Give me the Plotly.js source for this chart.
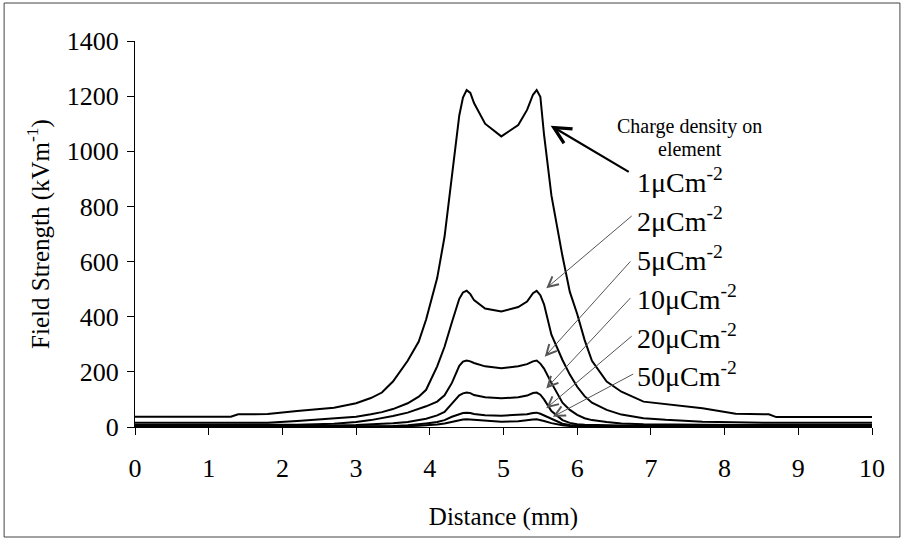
<!DOCTYPE html>
<html>
<head>
<meta charset="utf-8">
<script src="https://cdn.plot.ly/plotly-3.0.1.min.js"></script>
<style>html,body{margin:0;padding:0;background:#fff;}#chart{width:907px;height:540px;}</style>
</head>
<body>
<div id="chart"></div>
<script>
// Distance (mm)
const distance = [0, 1.3, 1.4, 1.8, 2.2, 2.7, 3.0, 3.2, 3.35, 3.5, 3.7, 3.85, 3.95, 4.1, 4.2, 4.3, 4.4, 4.45, 4.5, 4.55, 4.6, 4.75, 4.97, 5.2, 5.32, 5.4, 5.45, 5.5, 5.55, 5.65, 5.8, 5.9, 6.0, 6.1, 6.2, 6.4, 6.6, 6.9, 7.2, 7.7, 8.15, 8.6, 8.7, 10];

// Field strength (kV/m) for each charge density on element
const field1 = [37, 37, 46, 47, 58, 70, 86, 105, 125, 165, 240, 310, 390, 540, 690, 910, 1130, 1195, 1222, 1212, 1175, 1100, 1054, 1095, 1150, 1205, 1222, 1198, 1060, 840, 620, 490, 410, 316, 240, 165, 128, 92, 82, 68, 48, 46, 36, 36];
const field2 = [15, 15, 15, 15, 22, 30, 37, 46, 54, 65, 86, 110, 135, 220, 291, 380, 465, 488, 494, 482, 460, 430, 419, 435, 455, 485, 494, 478, 445, 335, 243, 190, 146, 112, 88, 62, 45, 32, 26, 19, 17, 15, 15, 15];
const field5 = [7, 7, 7, 7, 8, 12, 18, 25, 32, 40, 52, 65, 75, 92, 115, 160, 222, 237, 241, 238, 232, 220, 213, 220, 228, 238, 241, 230, 212, 160, 88, 62, 44, 32, 25, 18, 13, 10, 9, 8, 7, 7, 7, 7];
const field10 = [4, 4, 4, 4, 4, 5, 7, 9, 11, 14, 18, 24, 30, 42, 55, 85, 115, 122, 125, 123, 116, 108, 104, 108, 114, 123, 125, 117, 100, 58, 25, 15, 10, 8, 7, 6, 5, 4.5, 4, 4, 4, 4, 4, 4];
const field20 = [1.5, 1.5, 1.5, 1.5, 1.5, 1.5, 2, 2.5, 3, 4, 6, 9, 13, 18, 25, 37, 48, 51, 52, 51, 47, 43, 41, 43, 46, 51, 52, 48, 42, 28, 12, 7, 5, 4, 3, 2, 1.5, 1.5, 1.5, 1.5, 1.5, 1.5, 1.5, 1.5];
const field50 = [0.7, 0.7, 0.7, 0.7, 0.7, 0.7, 0.7, 0.7, 1.5, 2, 3, 4.5, 6, 9, 13, 19, 25, 27, 28, 27, 24, 21, 19, 21, 23, 27, 28, 26, 22, 14, 6, 4, 3, 2, 1.5, 0.7, 0.7, 0.7, 0.7, 0.7, 0.7, 0.7, 0.7, 0.7];

const seriesNames = ["1μCm-2", "2μCm-2", "5μCm-2", "10μCm-2", "20μCm-2", "50μCm-2"];
const seriesValues = [field1, field2, field5, field10, field20, field50];
const labelText = ["1μCm<sup>-2</sup>", "2μCm<sup>-2</sup>", "5μCm<sup>-2</sup>", "10μCm<sup>-2</sup>", "20μCm<sup>-2</sup>", "50μCm<sup>-2</sup>"];
// label anchor and arrow geometry (data units)
const labelX = [6.78, 6.78, 6.78, 6.78, 6.78, 6.78];
const labelY = [893, 751, 610, 468, 327, 189];
const headX = [5.64, 5.58, 5.56, 5.58, 5.58, 5.67];
const headY = [1093, 503, 255, 140, 68, 37];
const tailX = [6.72, 6.76, 6.74, 6.74, 6.76, 6.78];
const tailY = [922, 770, 606, 473, 334, 195];

const FONT = "Liberation Serif, Times New Roman, serif";

const traces = seriesValues.map((v, i) => ({
  x: distance, y: v, type: "scatter", mode: "lines", name: seriesNames[i],
  line: {color: "#000", width: 2}, hoverinfo: "skip"
}));

const annotations = [
  {x: 7.53, y: 1090, xref: "x", yref: "y", showarrow: false, text: "Charge density on",
   font: {family: FONT, size: 20, color: "#000"}, xanchor: "center", yanchor: "middle"},
  {x: 7.53, y: 1008, xref: "x", yref: "y", showarrow: false, text: "element",
   font: {family: FONT, size: 20, color: "#000"}, xanchor: "center", yanchor: "middle"}
];
for (let i = 0; i < labelText.length; i++) {
  annotations.push({
    x: labelX[i], y: labelY[i], xref: "x", yref: "y", showarrow: false,
    text: labelText[i], xanchor: "left", yanchor: "middle",
    font: {family: FONT, size: 28, color: "#000"}
  });
  annotations.push({
    x: headX[i], y: headY[i], xref: "x", yref: "y",
    ax: tailX[i], ay: tailY[i], axref: "x", ayref: "y",
    text: "", showarrow: true, arrowhead: 5,
    arrowwidth: i === 0 ? 2.2 : 1, arrowsize: i === 0 ? 1.5 : 2,
    arrowcolor: i === 0 ? "#000" : "#555"
  });
}

const layout = {
  width: 907, height: 540,
  margin: {l: 135, r: 35, t: 41, b: 113},
  paper_bgcolor: "#fff", plot_bgcolor: "#fff",
  showlegend: false,
  font: {family: FONT, color: "#000", size: 26},
  xaxis: {
    range: [0, 10], dtick: 1, tick0: 0, showgrid: false, zeroline: false,
    showline: true, linecolor: "#000", linewidth: 1,
    ticks: "outside", ticklen: 7, tickcolor: "#000", ticklabelstandoff: 11,
    tickfont: {family: FONT, size: 26, color: "#000"},
    title: {text: "Distance (mm)", font: {family: FONT, size: 25, color: "#000"}, standoff: 25}
  },
  yaxis: {
    range: [0, 1400], dtick: 200, tick0: 0, showgrid: false, zeroline: false,
    showline: true, linecolor: "#000", linewidth: 1,
    ticks: "outside", ticklen: 7, tickcolor: "#000", ticklabelstandoff: 3,
    tickfont: {family: FONT, size: 26, color: "#000"},
    title: {text: "Field Strength (kVm<sup>-1</sup>)", font: {family: FONT, size: 25, color: "#000"}, standoff: 10}
  },
  annotations: annotations,
  shapes: [{
    type: "rect", xref: "paper", yref: "paper",
    x0: -0.1776, x1: 1.0379, y0: -0.285, y1: 1.0984,
    line: {color: "#444", width: 1}
  }]
};

Plotly.newPlot("chart", traces, layout, {displayModeBar: false, staticPlot: true});
</script>
</body>
</html>
